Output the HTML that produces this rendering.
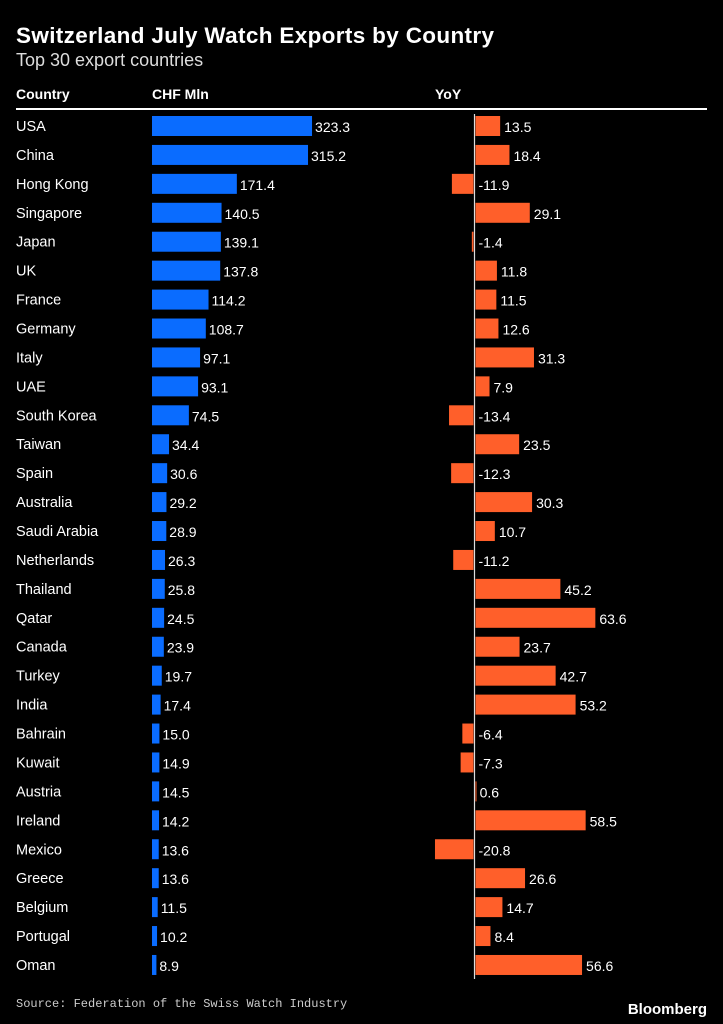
<!DOCTYPE html>
<html><head><meta charset="utf-8"><style>
body{margin:0;background:#000;width:723px;height:1024px;overflow:hidden;font-family:"Liberation Sans",sans-serif;color:#fff}
svg{position:absolute;left:0;top:0}
</style></head><body>
<svg width="723" height="1024">
<text x="16" y="43" font-size="22.5" font-weight="bold" fill="#fff" textLength="478">Switzerland July Watch Exports by Country</text>
<text x="16" y="66" font-size="18" fill="#ddd">Top 30 export countries</text>
<text x="16" y="99" font-size="14" font-weight="bold" fill="#fff">Country</text>
<text x="152" y="99" font-size="14" font-weight="bold" fill="#fff">CHF Mln</text>
<text x="435" y="99" font-size="14" font-weight="bold" fill="#fff">YoY</text>
<rect x="16" y="108" width="691" height="2" fill="#fff"/>
<g id="rows"></g>
<text x="16" y="1007" font-size="12" fill="#ccc" font-family="Liberation Mono, monospace">Source: Federation of the Swiss Watch Industry</text>
<text x="707" y="1014" font-size="15" font-weight="bold" fill="#fff" text-anchor="end">Bloomberg</text>
</svg>
<script>
const countries=["USA","China","Hong Kong","Singapore","Japan","UK","France","Germany","Italy","UAE","South Korea","Taiwan","Spain","Australia","Saudi Arabia","Netherlands","Thailand","Qatar","Canada","Turkey","India","Bahrain","Kuwait","Austria","Ireland","Mexico","Greece","Belgium","Portugal","Oman"];
const chfValues=[323.3,315.2,171.4,140.5,139.1,137.8,114.2,108.7,97.1,93.1,74.5,34.4,30.6,29.2,28.9,26.3,25.8,24.5,23.9,19.7,17.4,15.0,14.9,14.5,14.2,13.6,13.6,11.5,10.2,8.9];
const yoyValues=[13.5,18.4,-11.9,29.1,-1.4,11.8,11.5,12.6,31.3,7.9,-13.4,23.5,-12.3,30.3,10.7,-11.2,45.2,63.6,23.7,42.7,53.2,-6.4,-7.3,0.6,58.5,-20.8,26.6,14.7,8.4,56.6];
const NS="http://www.w3.org/2000/svg";
const g=document.getElementById('rows');
const xChf=v=>152+v*0.495;
const x0=474.5;
const xYoy=v=>x0+v*1.9;
const yRow=i=>116+i*28.93;
function mk(tag,attrs){const e=document.createElementNS(NS,tag);for(const k in attrs)e.setAttribute(k,attrs[k]);g.appendChild(e);return e;}
const axis=mk('line',{x1:x0,x2:x0,y1:114,y2:979,stroke:'#ddd','stroke-width':1.2});


countries.forEach((c,i)=>{
  const y=yRow(i);
  const t=mk('text',{x:16,y:y+15,'font-size':14.5,fill:'#fff'});t.textContent=c;
  
  
  const v=chfValues[i];
  const b=mk('rect',{x:152,y:y,width:xChf(v)-152,height:20,fill:'#0a6cff'});
  
  
  const l=mk('text',{x:xChf(v)+3,y:y+16,'font-size':14,fill:'#fff'});l.textContent=v.toFixed(1);
  
  
  const w=yoyValues[i];
  const xa=Math.min(x0,xYoy(w)),xb=Math.max(x0,xYoy(w));
  const r=mk('rect',{x:w<0?xa:x0+1,y:y,width:Math.max(1,xb-xa-1),height:20,fill:'#ff5f2a'});
  
  
  const lx=w<0?x0+4:xYoy(w)+4;
  const yl=mk('text',{x:lx,y:y+16,'font-size':14,fill:'#fff'});yl.textContent=w.toFixed(1);
  
  
});
</script>
</body></html>
